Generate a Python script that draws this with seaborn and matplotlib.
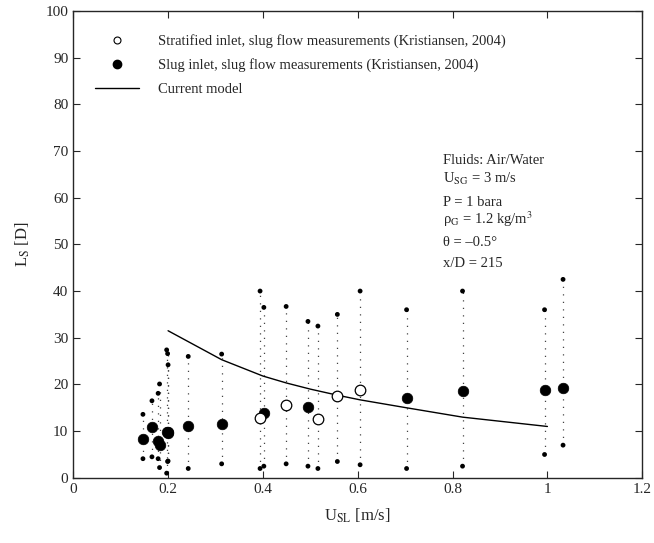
import numpy as np
import pandas as pd
import matplotlib
matplotlib.use('Agg')
import matplotlib.pyplot as plt
from matplotlib.lines import Line2D
import seaborn as sns

# Slug inlet measurements (filled markers): mean, min and max slug length
usl_slug = [0.147, 0.166, 0.179, 0.182, 0.197, 0.199, 0.200, 0.2425, 0.313,
            0.402, 0.495, 0.703, 0.821, 0.994, 1.033]
ls_mean_slug = [8.4, 10.8, 7.9, 7.1, 9.9, 9.7, 9.8, 11.0, 11.6,
                13.8, 15.1, 17.1, 18.6, 18.9, 19.3]
ls_min_slug = [4.1, 4.5, 4.1, 2.2, 1.0, 3.5, 3.6, 2.0, 3.0,
               2.5, 2.5, 2.0, 2.5, 5.0, 7.0]
ls_max_slug = [13.6, 16.5, 18.1, 20.1, 27.4, 26.6, 24.2, 26.0, 26.5,
               36.5, 33.5, 36.0, 40.0, 36.0, 42.5]

# Stratified inlet measurements (open markers)
usl_strat = [0.394, 0.449, 0.516, 0.557, 0.605]
ls_mean_strat = [12.9, 15.6, 12.5, 17.6, 18.8]
ls_min_strat = [2.0, 3.0, 2.0, 3.5, 2.8]
ls_max_strat = [40.0, 36.7, 32.5, 35.0, 40.0]

# Current model
usl_model = [0.2, 0.313, 0.4, 0.45, 0.5, 0.557, 0.605, 0.703, 0.821, 1.0]
ls_model = [31.5, 25.3, 21.8, 20.3, 19.0, 17.7, 16.7, 15.0, 13.0, 11.0]

sns.set_style('ticks')
plt.rcParams['font.family'] = ['Liberation Serif', 'DejaVu Serif']
plt.rcParams['mathtext.fontset'] = 'stix'

slug = pd.DataFrame({'usl': usl_slug, 'mean': ls_mean_slug,
                     'min': ls_min_slug, 'max': ls_max_slug})
strat = pd.DataFrame({'usl': usl_strat, 'mean': ls_mean_strat,
                      'min': ls_min_strat, 'max': ls_max_strat})
model = pd.DataFrame({'usl': usl_model, 'ls': ls_model})

fig, ax = plt.subplots(figsize=(6.54, 5.43), dpi=100)
fig.subplots_adjust(left=0.112, right=0.982, top=0.98, bottom=0.12)

# dotted range lines from min to max
for df in (slug, strat):
    ax.vlines(df['usl'], df['min'], df['max'], colors='#444444',
              linestyles=(0, (1, 5)), linewidth=0.9, zorder=1)

# min/max small dots
both = pd.concat([slug, strat])
ext = pd.melt(both, id_vars='usl', value_vars=['min', 'max'], value_name='ls')
sns.scatterplot(data=ext, x='usl', y='ls', color='black', s=12,
                edgecolor='none', ax=ax, zorder=3, legend=False)

# mean values
sns.scatterplot(data=slug, x='usl', y='mean', color='black', s=58,
                edgecolor='black', linewidth=0.5, ax=ax, zorder=4, legend=False)
sns.scatterplot(data=strat, x='usl', y='mean', facecolor='white', s=58,
                edgecolor='black', linewidth=0.9, ax=ax, zorder=4, legend=False)

sns.lineplot(data=model, x='usl', y='ls', color='black', linewidth=1.0,
             ax=ax, zorder=2)

ax.set_xlim(0, 1.2)
ax.set_ylim(0, 100)
ax.set_xticks(np.arange(0, 1.21, 0.2))
ax.set_xticklabels(['0', '0.2', '0.4', '0.6', '0.8', '1', '1.2'])
ax.set_yticks(np.arange(0, 101, 10))
ax.tick_params(direction='in', top=True, right=True, labelsize=11,
               length=5, width=0.8)
for sp in ax.spines.values():
    sp.set_linewidth(1.0)
    sp.set_visible(True)

ax.set_xlabel(r'U$_{\rm SL}$ [m/s]', fontsize=12, labelpad=8)
ax.set_ylabel(r'L$_{\rm S}$ [D]', fontsize=12, labelpad=10)

handles = [
    Line2D([], [], marker='o', linestyle='none', markerfacecolor='white',
           markeredgecolor='black', markersize=5, markeredgewidth=0.8),
    Line2D([], [], marker='o', linestyle='none', color='black', markersize=6),
    Line2D([], [], color='black', linewidth=1.0),
]
labels = ['Stratified inlet, slug flow measurements (Kristiansen, 2004)',
          'Slug inlet, slug flow measurements (Kristiansen, 2004)',
          'Current model']
ax.legend(handles, labels, loc='upper left', bbox_to_anchor=(0.015, 0.978),
          frameon=False, fontsize=10.5, handlelength=3.0, handletextpad=1.3,
          labelspacing=0.7)

info = ['Fluids: Air/Water',
        r'U$_{\rm SG}$ = 3 m/s',
        'P = 1 bara',
        r'ρ$_{\rm G}$ = 1.2 kg/m$^3$',
        'θ = –0.5°',
        'x/D = 215']
info_y = [67.9, 64.0, 58.9, 55.3, 50.3, 46.0]
for t, y in zip(info, info_y):
    ax.text(0.78, y, t, fontsize=10.5, ha='left', va='center')

sns.despine(ax=ax, top=False, right=False)
fig.savefig('out.png', dpi=100)
